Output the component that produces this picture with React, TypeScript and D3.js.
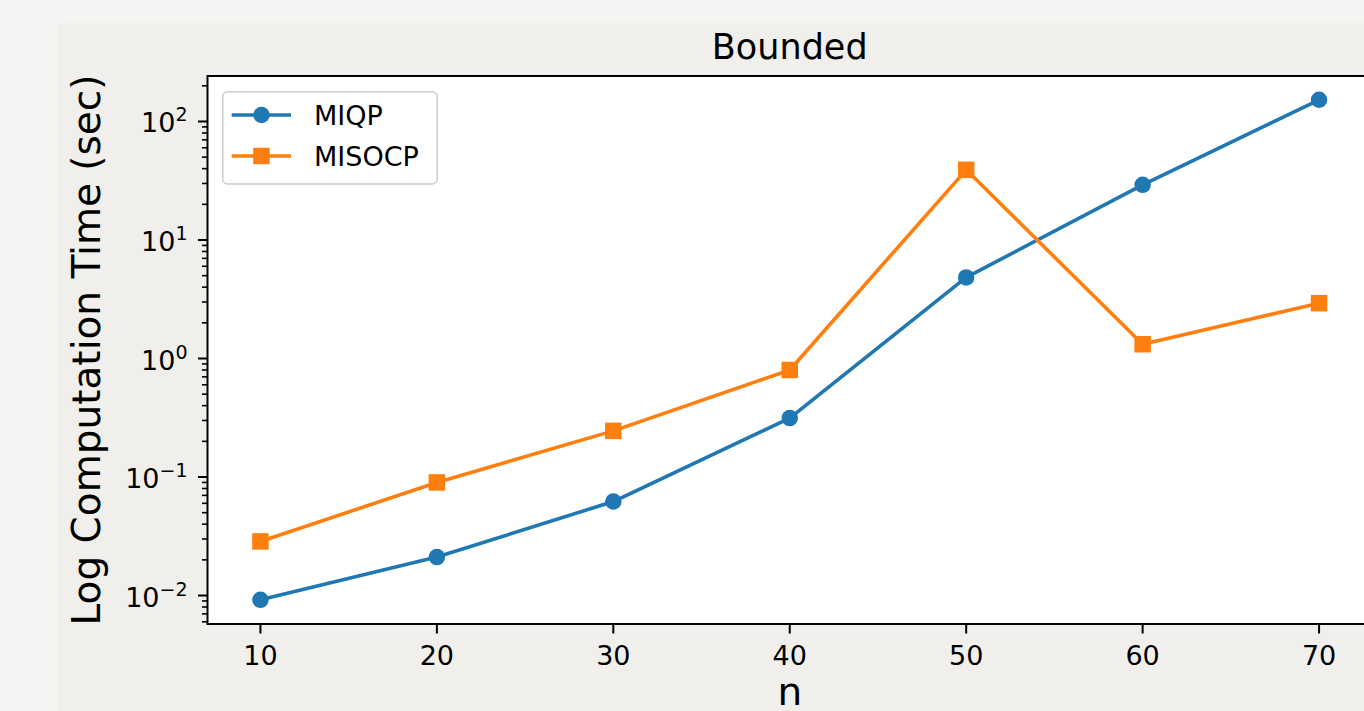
import React from "react";
import * as d3 from "d3";

// Problem sizes
const sizes = [10, 20, 30, 40, 50, 60, 70];
// Computation time in seconds for each formulation
const miqpTimes = [0.0092, 0.0211, 0.0621, 0.314, 4.83, 29.2, 152.5];
const misocpTimes = [0.0286, 0.090, 0.245, 0.80, 39.1, 1.32, 2.93];
const xTickValues = [10, 20, 30, 40, 50, 60, 70];
const yTickExponents = [-2, -1, 0, 1, 2];
const seriesNames = ["MIQP", "MISOCP"];

const W = 1364;
const H = 711;
const FONT = "DejaVu Sans, Verdana, sans-serif";
const BLUE = "#1f77b4";
const ORANGE = "#ff7f0e";

export default function App() {
  const left = 207.5;
  const right = 1372;
  const top = 76;
  const bottom = 624;

  const x = d3.scaleLinear().domain([7, 73]).range([left, right]);
  const y = d3.scaleLog().domain([0.00575, 242]).range([bottom, top]);

  const line = d3
    .line<[number, number]>()
    .x((d) => x(d[0]))
    .y((d) => y(d[1]));

  const miqpPts = sizes.map((s, i) => [s, miqpTimes[i]] as [number, number]);
  const misocpPts = sizes.map((s, i) => [s, misocpTimes[i]] as [number, number]);

  const [yMin, yMax] = y.domain();
  const minorTicks: number[] = [];
  for (let e = -3; e <= 3; e++) {
    for (let k = 2; k <= 9; k++) {
      const v = k * Math.pow(10, e);
      if (v >= yMin && v <= yMax) minorTicks.push(v);
    }
  }

  const mk = 16.5; // marker size
  const tickFont = 27;

  return (
    <div style={{ position: "fixed", left: 0, top: 0, width: W, height: H, overflow: "hidden" }}>
      <svg width={W} height={H} style={{ display: "block" }}>
        <rect x={0} y={0} width={W} height={H} fill="#f5f4f2" />
        <rect x={58} y={23} width={W - 58} height={H - 23} fill="#f0efeb" />
        <rect x={left} y={top} width={right - left} height={bottom - top} fill="#ffffff" />

        {/* series lines */}
        <path d={line(miqpPts) || ""} fill="none" stroke={BLUE} strokeWidth={3.6} strokeLinejoin="round" />
        <path d={line(misocpPts) || ""} fill="none" stroke={ORANGE} strokeWidth={3.6} strokeLinejoin="round" />
        {miqpPts.map((p, i) => (
          <circle key={"c" + i} cx={x(p[0])} cy={y(p[1])} r={mk / 2} fill={BLUE} />
        ))}
        {misocpPts.map((p, i) => (
          <rect
            key={"s" + i}
            x={x(p[0]) - mk / 2}
            y={y(p[1]) - mk / 2}
            width={mk}
            height={mk}
            fill={ORANGE}
          />
        ))}

        {/* spines */}
        <path
          d={`M${right},${top}H${left}V${bottom}H${right}`}
          fill="none"
          stroke="#000"
          strokeWidth={2}
        />

        {/* x ticks */}
        {xTickValues.map((v) => (
          <g key={"xt" + v}>
            <line x1={x(v)} x2={x(v)} y1={bottom} y2={bottom + 9.5} stroke="#000" strokeWidth={2} />
            <text
              x={x(v)}
              y={bottom + 41}
              textAnchor="middle"
              fontFamily={FONT}
              fontSize={tickFont}
              fill="#000"
            >
              {v}
            </text>
          </g>
        ))}

        {/* y minor ticks */}
        {minorTicks.map((v, i) => (
          <line key={"ym" + i} x1={left - 5.5} x2={left} y1={y(v)} y2={y(v)} stroke="#000" strokeWidth={1.6} />
        ))}
        {/* y major ticks */}
        {yTickExponents.map((e) => {
          const v = Math.pow(10, e);
          const yy = y(v);
          const sup = e < 0 ? "\u2212" + Math.abs(e) : String(e);
          return (
            <g key={"yt" + e}>
              <line x1={left - 9.5} x2={left} y1={yy} y2={yy} stroke="#000" strokeWidth={2} />
              <text
                x={left - 20}
                y={yy + 11}
                textAnchor="end"
                fontFamily={FONT}
                fontSize={tickFont}
                fill="#000"
              >
                10
                <tspan fontSize={19} dy={-11}>
                  {sup}
                </tspan>
              </text>
            </g>
          );
        })}

        {/* title and axis labels */}
        <text x={(left + right) / 2} y={59} textAnchor="middle" fontFamily={FONT} fontSize={35} fill="#000">
          Bounded
        </text>
        <text
          transform={`translate(100,${(top + bottom) / 2}) rotate(-90)`}
          textAnchor="middle"
          fontFamily={FONT}
          fontSize={39}
          fill="#000"
        >
          Log Computation Time (sec)
        </text>
        <text x={(left + right) / 2} y={705} textAnchor="middle" fontFamily={FONT} fontSize={39} fill="#000">
          n
        </text>

        {/* legend */}
        <g>
          <rect
            x={222.7}
            y={91.7}
            width={214.6}
            height={92.3}
            rx={5}
            fill="#ffffff"
            fillOpacity={0.8}
            stroke="#cccccc"
            strokeWidth={1.5}
          />
          {seriesNames.map((name, i) => {
            const ly = 115 + i * 41;
            const col = i === 0 ? BLUE : ORANGE;
            return (
              <g key={name}>
                <line x1={231.7} x2={291} y1={ly} y2={ly} stroke={col} strokeWidth={3.6} />
                {i === 0 ? (
                  <circle cx={261.5} cy={ly} r={mk / 2} fill={col} />
                ) : (
                  <rect x={261.5 - mk / 2} y={ly - mk / 2} width={mk} height={mk} fill={col} />
                )}
                <text x={314} y={ly + 9.5} fontFamily={FONT} fontSize={tickFont} fill="#000">
                  {name}
                </text>
              </g>
            );
          })}
        </g>
      </svg>
    </div>
  );
}
